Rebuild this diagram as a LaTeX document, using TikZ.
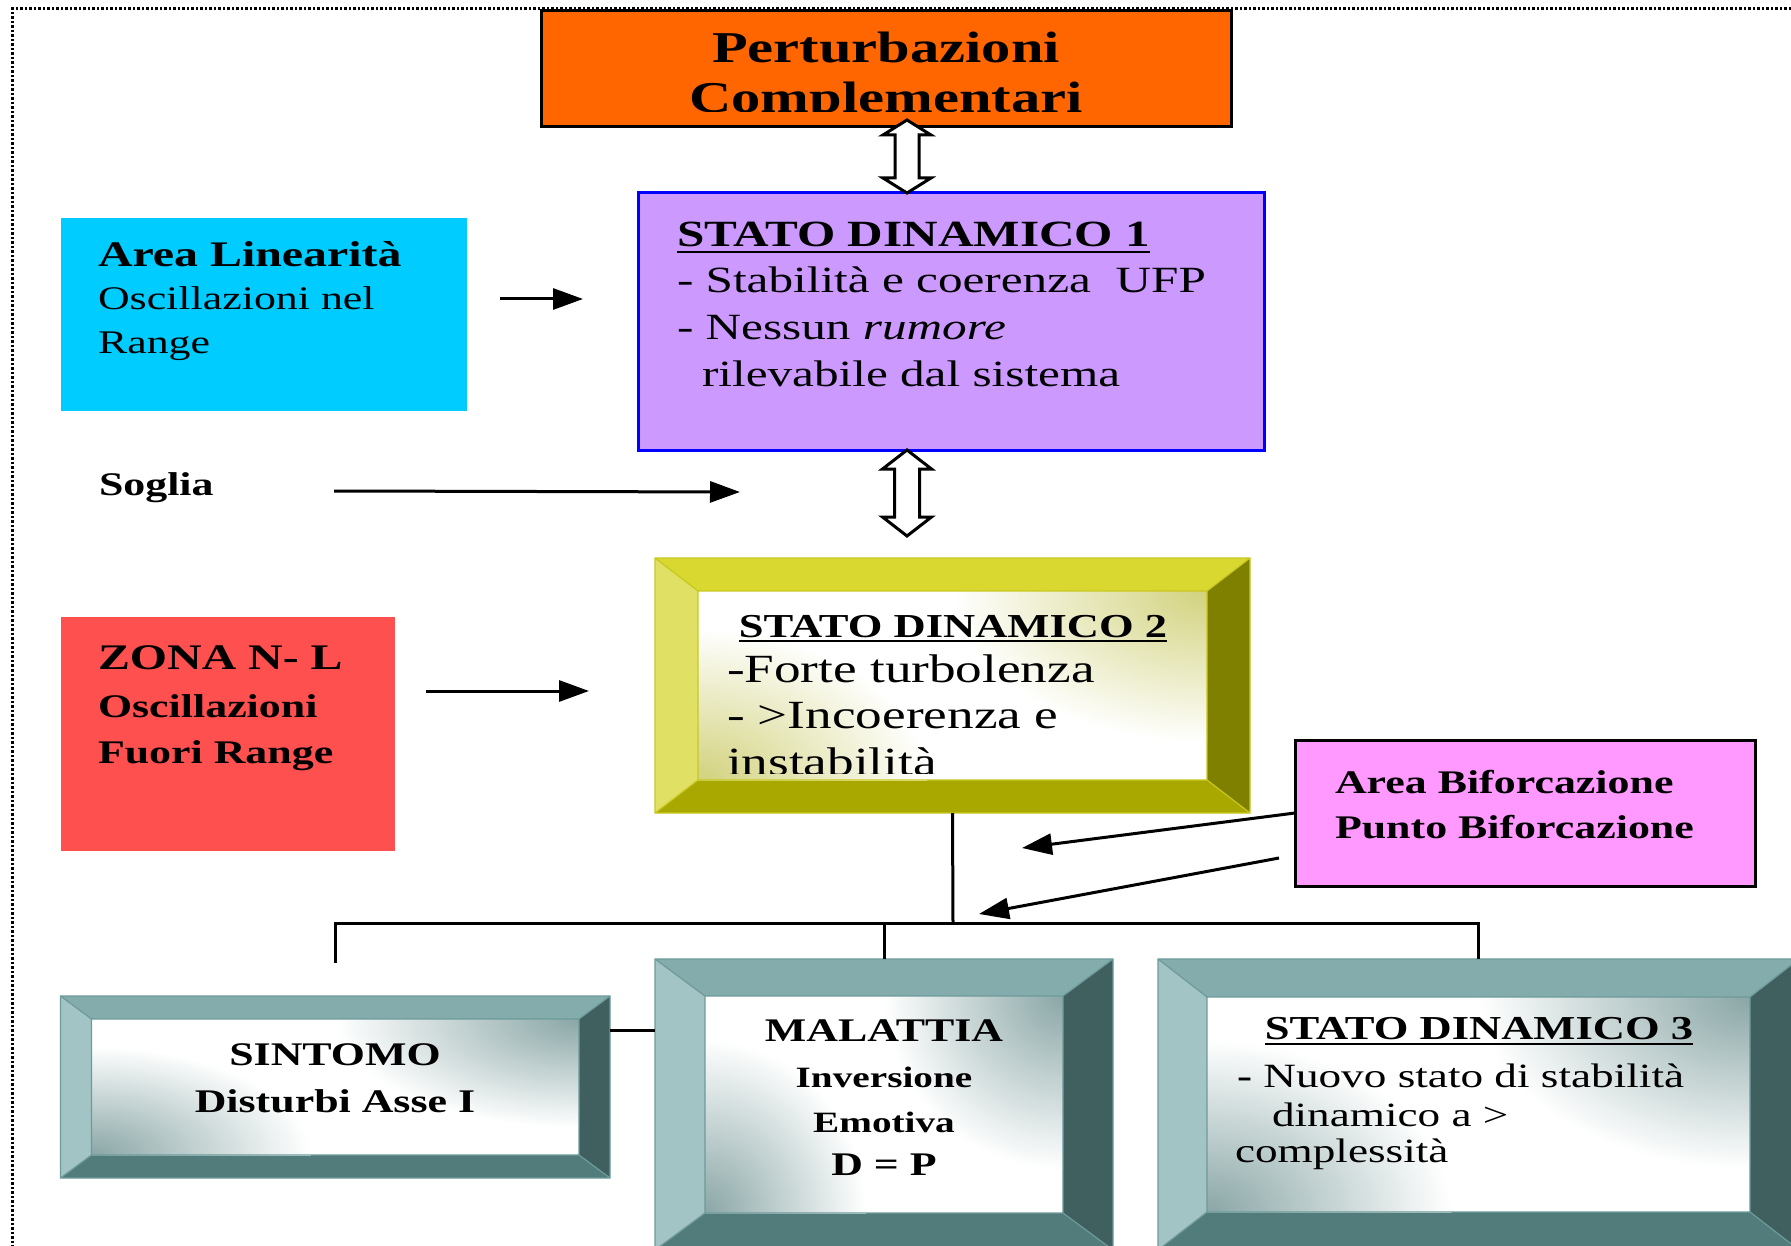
\documentclass[tikz,border=0pt]{standalone}
\usepackage{fontspec}
\setmainfont[FakeStretch=1.33]{Liberation Serif}
\usetikzlibrary{arrows.meta,calc}
\definecolor{orangeP}{HTML}{FF6600}
\definecolor{purpP}{HTML}{CC99FF}
\definecolor{cyanP}{HTML}{00CCFF}
\definecolor{redP}{HTML}{FF5050}
\definecolor{pinkP}{HTML}{FF99FF}
\definecolor{tealT}{HTML}{84ACAC}
\definecolor{tealL}{HTML}{A2C4C4}
\definecolor{tealR}{HTML}{406060}
\definecolor{tealB}{HTML}{527C7C}
\definecolor{tealE}{HTML}{6E9A9A}
\definecolor{tealTint}{HTML}{8AA6A6}
\definecolor{yelT}{HTML}{D8D830}
\definecolor{yelL}{HTML}{E0E064}
\definecolor{yelR}{HTML}{808000}
\definecolor{yelB}{HTML}{A8A800}
\definecolor{yelE}{HTML}{C8C820}
\definecolor{yelTint}{HTML}{D2D27E}
\newcommand\fsz[1]{\fontsize{#1}{#1}\selectfont}
\newcommand\bevelbox[7]{%
  \fill[#7T] (#1,#2) -- (#3,#2) -- (#3-#5,#2+#6) -- (#1+#5,#2+#6) -- cycle;
  \fill[#7L] (#1,#2) -- (#1+#5,#2+#6) -- (#1+#5,#4-#6) -- (#1,#4) -- cycle;
  \fill[#7R] (#3,#2) -- (#3,#4) -- (#3-#5,#4-#6) -- (#3-#5,#2+#6) -- cycle;
  \fill[#7B] (#1,#4) -- (#1+#5,#4-#6) -- (#3-#5,#4-#6) -- (#3,#4) -- cycle;
  \begin{scope}
    \clip (#1+#5,#2+#6) rectangle (#3-#5,#4-#6);
    \fill[white] (#1+#5,#2+#6) rectangle (#3-#5,#4-#6);
    \shade[inner color=#7Tint, outer color=white]
      (#3-#5,#2+#6) ellipse [x radius={0.5*(#3-#1-2*#5)*1pt}, y radius={0.8*(#4-#2-2*#6)*1pt}];
    \shade[inner color=#7Tint, outer color=white]
      (#1+#5,#4-#6) ellipse [x radius={0.45*(#3-#1-2*#5)*1pt}, y radius={0.8*(#4-#2-2*#6)*1pt}];
  \end{scope}
  \draw[#7E, line width=1.2] (#1,#2) rectangle (#3,#4)
     (#1+#5,#2+#6) rectangle (#3-#5,#4-#6)
     (#1,#2) -- (#1+#5,#2+#6) (#3,#2) -- (#3-#5,#2+#6)
     (#1,#4) -- (#1+#5,#4-#6) (#3,#4) -- (#3-#5,#4-#6);
}
\newcommand\hollowdbl[5]{%
  \draw[line width=3, fill=white, line join=miter]
   let \p1=(#1), \p2=(#2) in
   (\x1,\y1) -- (\x1+#3,\y1-#5) -- (\x1+#4,\y1-#5) -- (\x1+#4,\y2+#5) -- (\x1+#3,\y2+#5)
   -- (\x1,\y2) -- (\x1-#3,\y2+#5) -- (\x1-#4,\y2+#5) -- (\x1-#4,\y1-#5) -- (\x1-#3,\y1-#5) -- cycle;
}
\begin{document}
\begin{tikzpicture}[x=1pt,y=-1pt,
  box/.style={rectangle, inner sep=0, outer sep=0},
  tl/.style={inner sep=0, outer sep=0, anchor=base west},
  tc/.style={inner sep=0, outer sep=0, anchor=base},
  conn/.style={line width=3},
  arr/.style={line width=3, -{Triangle[length=30pt,width=21pt]}},
  ul/.style={line width=2.5}]
\useasboundingbox (0,0) rectangle (1791,1246);
\fill[white] (0,0) rectangle (1791,1246);
% dotted frame
\draw[line width=3, dash pattern=on 2.5pt off 2pt] (1791,9) -- (12,9) -- (12,1246);

% orange box
\node[box, draw=black, line width=3, fill=orangeP, minimum width=690, minimum height=116] (pert) at (886,69) {};
\begin{scope}
\clip (541,12) rectangle (1231,111.5);
\node[tc, font={\fsz{44}\bfseries}] (pt1) at (886,63) {Perturbazioni};
\node[tc, font={\fsz{44}\bfseries}] (pt2) at (886,113) {Complementari};
\end{scope}

% purple box
\node[box, draw=blue, line width=3, fill=purpP, minimum width=626, minimum height=257] (sd1) at (951,321.5) {};
\node[tl, font={\fsz{37}\bfseries}] (s1a) at (677,247) {STATO DINAMICO 1};
\draw[ul] ([yshift=-5pt]s1a.base west) -- ([yshift=-5pt]s1a.base east);
\node[tl, font={\fsz{37}}] (s1b) at (677,293) {- Stabilità e coerenza~~UFP};
\node[tl, font={\fsz{37}}] (s1c) at (677,340) {- Nessun \textit{rumore}};
\node[tl, font={\fsz{37}}] (s1d) at (702,387) {rilevabile dal sistema};

\coordinate (ax) at (907,0);
\hollowdbl{$(pert.south -| ax)+(0,-7)$}{sd1.north -| ax}{24pt}{12pt}{15pt}

% cyan box
\node[box, fill=cyanP, minimum width=406, minimum height=193] (lin) at (264,314.5) {};
\node[tl, font={\fsz{36}\bfseries}] (l1) at (98,267) {Area Linearità};
\node[tl, font={\fsz{33}}] (l2) at (98,310) {Oscillazioni nel};
\node[tl, font={\fsz{33}}] (l3) at (98,354) {Range};
\coordinate (la0) at (500,299);
\coordinate (la1) at (583,299);
\draw[arr] (la0) -- (la1);

% soglia
\node[tl, font={\fsz{33}\bfseries}] (sog) at (99,495) {Soglia};
\coordinate (sa0) at (334,491);
\coordinate (sa1) at (740,492);
\draw[arr] (sa0) -- (sa1);

% red box
\node[box, fill=redP, minimum width=334, minimum height=234] (nl) at (227.5,734) {};
\node[tl, font={\fsz{36}\bfseries}] (n1) at (98,669) {ZONA N- L};
\node[tl, font={\fsz{33}\bfseries}] (n2) at (98,717) {Oscillazioni};
\node[tl, font={\fsz{33}\bfseries}] (n3) at (98,763) {Fuori Range};
\coordinate (ra0) at (426,691);
\coordinate (ra1) at (589,691);
\draw[arr] (ra0) -- (ra1);

% yellow bevel box
\bevelbox{655}{558}{1250}{813}{43}{33}{yel}
\node[box, minimum width=595, minimum height=255] (yb) at (952.5,685.5) {};
\node[tc, font={\fsz{33.5}\bfseries}] (s2a) at (953,637) {STATO DINAMICO 2};
\draw[ul] ([yshift=-4pt]s2a.base west) -- ([yshift=-4pt]s2a.base east);
\node[tl, font={\fsz{40}}] (s2b) at (727,682) {-Forte turbolenza};
\node[tl, font={\fsz{40}}] (s2c) at (727,728) {- >Incoerenza e};
\begin{scope}
\clip (699,735) rectangle (1207,773.5);
\node[tl, font={\fsz{40}}] (s2d) at (727,775) {instabilità};
\end{scope}

\hollowdbl{sd1.south -| ax}{$(yb.north -| ax)+(0,-22)$}{24.5pt}{12.5pt}{19pt}

% pink box
\node[box, draw=black, line width=3, fill=pinkP, minimum width=460, minimum height=146] (bif) at (1525,813) {};
\node[tl, font={\fsz{33}\bfseries}] (b1) at (1335,793) {Area Biforcazione};
\node[tl, font={\fsz{33}\bfseries}] (b2) at (1335,838) {Punto Biforcazione};
\coordinate (ba1) at (1022,848);
\draw[arr] (bif.west) -- (ba1);
\coordinate (bb0) at (1279,858);
\coordinate (bb1) at (979,914);
\draw[arr] (bb0) -- (bb1);

% bottom boxes
\bevelbox{60.5}{996}{610}{1178}{31}{23}{teal}
\node[box, minimum width=549.5, minimum height=182] (sint) at (335.25,1087) {};
\node[tc, font={\fsz{33}\bfseries}] (si1) at (335,1065) {SINTOMO};
\node[tc, font={\fsz{33}\bfseries}] (si2) at (335,1112) {Disturbi Asse I};

\bevelbox{655}{959}{1113}{1250}{50}{37}{teal}
\node[box, minimum width=458, minimum height=291] (mal) at (884,1104.5) {};
\node[tc, font={\fsz{33}\bfseries}] (m1) at (884,1041) {MALATTIA};
\node[tc, font={\fsz{29.5}\bfseries}] (m2) at (884,1087) {Inversione};
\node[tc, font={\fsz{29.5}\bfseries}] (m3) at (884,1132) {Emotiva};
\node[tc, font={\fsz{33}\bfseries}] (m4) at (884,1175) {D = P};

\bevelbox{1158}{959}{1799}{1250}{49}{38}{teal}
\node[box, minimum width=641, minimum height=291] (sd3) at (1478.5,1104.5) {};
\node[tc, font={\fsz{33.5}\bfseries}] (s3a) at (1479,1039) {STATO DINAMICO 3};
\draw[ul] ([yshift=-5pt]s3a.base west) -- ([yshift=-5pt]s3a.base east);
\node[tl, font={\fsz{34}}] (s3b) at (1237,1087) {\textbf{-} Nuovo stato di stabilità};
\node[tl, font={\fsz{34}}] (s3c) at (1272,1126) {dinamico a >};
\node[tl, font={\fsz{34}}] (s3d) at (1235,1162) {complessità};

% tree connectors
\coordinate (junc) at (953,923);
\coordinate (lend) at (335,963);
\coordinate (cm) at (632,1030);
\draw[conn] (yb.south) -- (junc);
\draw[conn] (lend) -- (lend |- junc) -- (sd3.north |- junc) -- (sd3.north);
\draw[conn] (mal.north |- junc) -- (mal.north);
\draw[conn] (sint.east |- cm) -- (mal.west |- cm);
\end{tikzpicture}
\end{document}
